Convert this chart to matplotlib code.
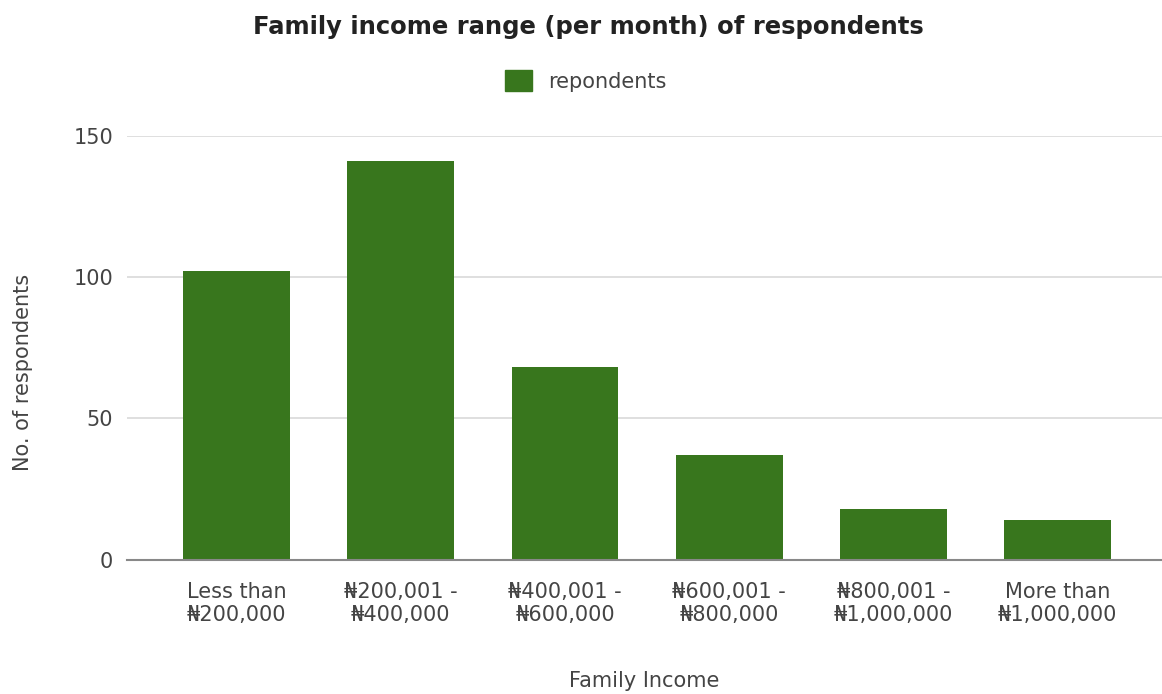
import matplotlib
matplotlib.use("Agg")
import matplotlib.pyplot as plt
from matplotlib.patches import Patch

plt.rcParams['font.family'] = ['DejaVu Sans']

categories = ["Less than\n₦200,000", "₦200,001 -\n₦400,000", "₦400,001 -\n₦600,000",
              "₦600,001 -\n₦800,000", "₦800,001 -\n₦1,000,000", "More than\n₦1,000,000"]
respondents = [102, 141, 68, 37, 18, 14]
yticks = [0, 50, 100, 150]
series_name = "repondents"
bar_color = "#38761d"

fs = 15
text_color = "#444444"

fig = plt.figure(figsize=(11.62, 6.94), dpi=100)
ax = fig.add_axes([127/1162, 1-559.5/694, 1-127/1162, (559.5-135.75)/694])

x = list(range(len(categories)))
ax.bar(x, respondents, width=0.65, color=bar_color, zorder=3)
ax.set_xlim(-0.667, 5.636)
ax.set_ylim(0, 150)
ax.set_yticks(yticks)
ax.set_xticks(x)
ax.set_xticklabels(categories, fontsize=fs, color=text_color, linespacing=1.2)
ax.tick_params(axis='y', labelsize=fs, labelcolor=text_color, length=0, pad=10)
ax.tick_params(axis='x', length=0, pad=16)
ax.grid(axis='y', color="#d9d9d9", linewidth=1.2, zorder=0)
for s in ['top', 'right', 'left']:
    ax.spines[s].set_visible(False)
ax.spines['bottom'].set_color("#888888")
ax.spines['bottom'].set_linewidth(1.5)
ax.spines['bottom'].set_zorder(4)

ax.set_xlabel("Family Income", fontsize=fs, color=text_color, labelpad=33)
ax.set_ylabel("No. of respondents", fontsize=fs, color=text_color)
ax.yaxis.set_label_coords(-0.0908, 0.4425)

fig.text(588/1162, 1-27/694, "Family income range (per month) of respondents",
         ha='center', va='center', fontsize=17.5, fontweight='bold', color="#222222")
fig.legend(handles=[Patch(color=bar_color, label=series_name)], loc='center',
           bbox_to_anchor=(586/1162, 1-81/694), frameon=False, fontsize=fs,
           handlelength=1.25, handleheight=1.15, handletextpad=0.8, labelcolor=text_color)

fig.savefig("out.png", dpi=100)
